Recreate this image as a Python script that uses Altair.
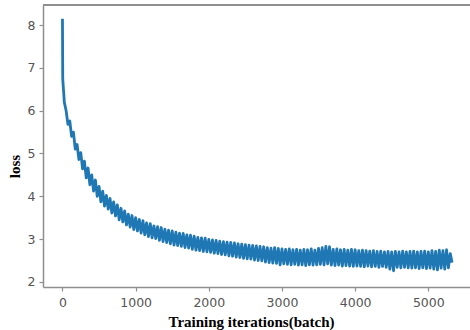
import altair as alt
import pandas as pd

# Training iterations (batch) at which the loss is read
iterations = [0, 4, 10, 18] + list(range(25, 5350, 25))

# Loss values
loss = [
    8.15, 6.75, 6.58, 6.40,
    6.20, 6.00, 5.68, 5.76, 5.40, 5.50, 5.10, 5.21, 4.86, 5.02,
    4.64, 4.82, 4.43, 4.66, 4.27, 4.50, 4.12, 4.38, 4.00, 4.23,
    3.87, 4.12, 3.77, 4.02, 3.70, 3.95, 3.61, 3.87, 3.54, 3.80,
    3.45, 3.72, 3.40, 3.66, 3.33, 3.58, 3.28, 3.55, 3.22, 3.50,
    3.19, 3.46, 3.14, 3.43, 3.10, 3.38, 3.06, 3.36, 3.03, 3.31,
    3.01, 3.29, 2.97, 3.27, 2.94, 3.23, 2.92, 3.21, 2.89, 3.19,
    2.86, 3.16, 2.85, 3.14, 2.83, 3.13, 2.80, 3.10, 2.79, 3.09,
    2.76, 3.07, 2.74, 3.04, 2.73, 3.03, 2.71, 3.02, 2.70, 2.99,
    2.69, 2.98, 2.67, 2.97, 2.66, 2.95, 2.64, 2.94, 2.63, 2.93,
    2.61, 2.92, 2.60, 2.91, 2.58, 2.89, 2.57, 2.88, 2.55, 2.87,
    2.54, 2.86, 2.53, 2.85, 2.51, 2.84, 2.50, 2.83, 2.49, 2.82,
    2.46, 2.80, 2.45, 2.79, 2.44, 2.80, 2.43, 2.78, 2.40, 2.77,
    2.42, 2.76, 2.41, 2.77, 2.40, 2.75, 2.41, 2.76, 2.39, 2.74,
    2.40, 2.76, 2.38, 2.75, 2.40, 2.77, 2.39, 2.74, 2.40, 2.78,
    2.41, 2.80, 2.40, 2.83, 2.42, 2.82, 2.39, 2.76, 2.38, 2.77,
    2.39, 2.75, 2.37, 2.76, 2.38, 2.74, 2.37, 2.76, 2.36, 2.75,
    2.37, 2.73, 2.36, 2.74, 2.35, 2.73, 2.37, 2.72, 2.35, 2.73,
    2.36, 2.71, 2.34, 2.72, 2.36, 2.70, 2.34, 2.71, 2.30, 2.70,
    2.26, 2.71, 2.34, 2.70, 2.33, 2.72, 2.34, 2.70, 2.33, 2.71,
    2.32, 2.72, 2.33, 2.70, 2.31, 2.71, 2.33, 2.72, 2.31, 2.70,
    2.32, 2.73, 2.30, 2.71, 2.28, 2.74, 2.32, 2.73, 2.30, 2.75,
    2.33, 2.66, 2.45,
]

x_ticks = [0, 1000, 2000, 3000, 4000, 5000]
y_ticks = [2, 3, 4, 5, 6, 7, 8]

n = min(len(iterations), len(loss))
df = pd.DataFrame({"iter": iterations[:n], "loss": loss[:n]})

W, H = 427, 282
AXIS_COLOR = "#8f8f8f"
LABEL_COLOR = "#555555"

line = alt.Chart(df).mark_line(
    color="#1f77b4", strokeWidth=2.8, strokeJoin="round", clip=True
).encode(
    x=alt.X(
        "iter:Q",
        scale=alt.Scale(domain=[-266, 5570], nice=False, zero=False),
        axis=alt.Axis(
            values=x_ticks,
            format="d",
            grid=False,
            title="Training iterations(batch)",
            titleFont="Liberation Serif",
            titleFontWeight="bold",
            titleFontSize=15,
            titleColor="#000000",
            titleX=208,
            titleY=39,
            titleBaseline="alphabetic",
            labelFont="DejaVu Sans",
            labelFontSize=12.5,
            labelColor=LABEL_COLOR,
            labelPadding=5,
            tickSize=4,
            tickColor=AXIS_COLOR,
            domainColor=AXIS_COLOR,
            domainWidth=1.5,
            tickWidth=1.2,
        ),
    ),
    y=alt.Y(
        "loss:Q",
        scale=alt.Scale(domain=[1.88, 8.47], nice=False, zero=False),
        axis=alt.Axis(
            values=y_ticks,
            format="d",
            grid=False,
            title="loss",
            titleFont="Liberation Serif",
            titleFontWeight="bold",
            titleFontSize=15,
            titleColor="#000000",
            titleX=-29,
            titleY=161,
            titleBaseline="middle",
            labelFont="DejaVu Sans",
            labelFontSize=12.5,
            labelColor=LABEL_COLOR,
            labelPadding=4,
            tickSize=4,
            tickColor=AXIS_COLOR,
            domainColor=AXIS_COLOR,
            domainWidth=1.5,
            tickWidth=1.2,
        ),
    ),
)

top_frame = alt.Chart(df).mark_rule(color=AXIS_COLOR, strokeWidth=1.5).encode(
    x=alt.value(0), x2=alt.value(W), y=alt.value(0)
)

chart = (
    alt.layer(line, top_frame)
    .properties(
        width=W,
        height=H,
        autosize=alt.AutoSizeParams(type="none"),
        padding={"left": 43, "top": 5, "right": 0, "bottom": 43},
        background="white",
    )
    .configure_view(stroke=None)
)

chart.save("out.html", embed_options={"renderer": "svg", "actions": False})
